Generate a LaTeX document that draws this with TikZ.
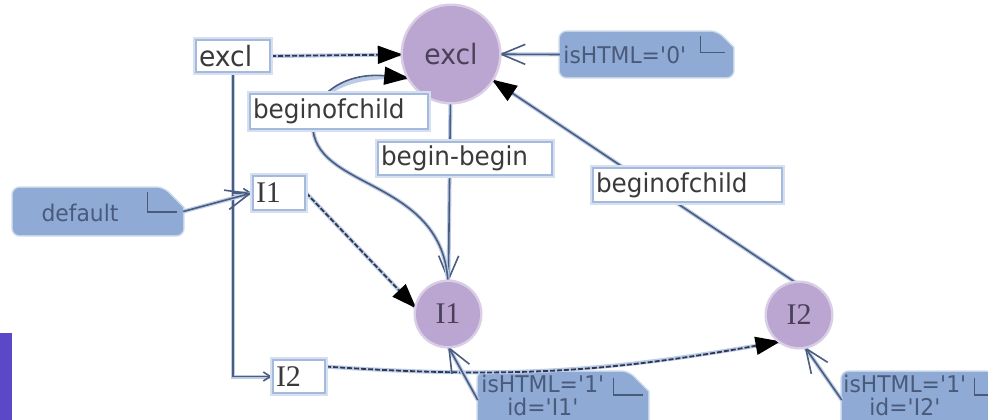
\documentclass[tikz,border=0pt]{standalone}
\usepackage{fontspec}
\newfontfamily\labfont[FakeStretch=0.95]{DejaVu Sans}
\newfontfamily\serfont{Liberation Serif}
\usetikzlibrary{arrows.meta}
\pgfdeclarelayer{back}
\pgfdeclarelayer{mid}
\pgfsetlayers{back,mid,main}

\definecolor{circfill}{HTML}{BBA5D1}
\definecolor{circtxt}{HTML}{4B4058}
\definecolor{notefill}{HTML}{8FAAD4}
\definecolor{notetxt}{HTML}{4A5A7A}
\definecolor{linec}{HTML}{4B5D7E}
\definecolor{dashc}{HTML}{2E3850}
\definecolor{glowc}{HTML}{BCCCE8}
\definecolor{boxedge}{HTML}{A3B9DE}
\definecolor{labtxt}{HTML}{3A3A3A}
\definecolor{sidebar}{HTML}{5A48C8}

\newcommand\apos{\textquotesingle}

\begin{document}
\begin{tikzpicture}[x=1pt,y=-1pt,
  lbl/.style={fill=white, draw=boxedge, line width=2.4pt,
    preaction={draw=glowc!60!white, line width=6pt},
    inner xsep=3pt, inner ysep=0pt, align=left, text=labtxt},
  labfnt/.style={font=\labfont\fontsize{26}{30}\selectfont},
  exfnt/.style={font=\labfont\fontsize{28}{32}\selectfont},
  serfnt/.style={font=\serfont\fontsize{30}{32}\selectfont},
  notefnt/.style={font=\labfont\fontsize{23}{23}\selectfont, text=notetxt, inner sep=0pt},
  role/.style={circle, fill=circfill, inner sep=0pt,
    preaction={draw=circfill!55!white, line width=5pt}},
  ghost/.style={draw=none, fill=none, inner sep=0pt},
  conn/.style={draw=linec, line width=1.6pt,
    preaction={draw=glowc, line width=4pt, -}},
  dashconn/.style={draw=dashc, line width=1.8pt, dash pattern=on 5pt off 2pt,
    preaction={draw=glowc, line width=4pt, solid, -}},
  fillhead/.style={-{Triangle[length=25pt,width=18pt,fill=black,color=black]}},
  openhead/.style={-{Straight Barb[length=24pt,width=20pt]}},
  smallhead/.style={-{Straight Barb[length=7pt,width=9pt]}},
  notemark/.style={draw=notetxt, line width=1.4pt},
]
\useasboundingbox (0,0) rectangle (988,420);
\begin{pgfonlayer}{back}
  \fill[white] (0,0) rectangle (988,420);
  \fill[sidebar] (0,333) rectangle (12,420);
\end{pgfonlayer}

% ---- role circles
\node[role, minimum size=96pt, exfnt, text=circtxt] (exclC) at (451,54) {excl};
\node[role, minimum size=64pt, serfnt, text=circtxt] (I1C) at (448,314) {I1};
\node[role, minimum size=64pt, serfnt, text=circtxt] (I2C) at (799,315) {I2};

% ---- element boxes
\node[lbl, exfnt, text width=68pt, minimum height=32pt] (exclB) at (233,56) {excl};
\node[lbl, serfnt, text width=46pt, minimum height=34pt] (I1B) at (279,193) {I1};
\node[lbl, serfnt, text width=46pt, minimum height=33pt] (I2B) at (299,376.5) {I2};

% ---- edge labels
\node[lbl, labfnt, text width=172pt, minimum height=35pt] (boc1) at (339,111.5) {beginofchild};
\node[lbl, labfnt, text width=168pt, minimum height=33pt] (bb) at (465,158.5) {begin-begin};
\node[lbl, labfnt, text width=183pt, minimum height=34pt] (boc2) at (687.5,185) {beginofchild};

% ---- notes (outline nodes, then shapes on the back layer)
\node[ghost, minimum width=173pt, minimum height=45pt] (n0) at (646.5,54.5) {};
\node[ghost, minimum width=170pt, minimum height=47pt] (ndef) at (98,211.5) {};
\node[ghost, minimum width=170pt, minimum height=56pt] (nI1) at (563,400) {};
\node[ghost, minimum width=168pt, minimum height=56pt] (nI2) at (926,400) {};

\begin{pgfonlayer}{back}
  \foreach \nt/\cut in {n0/16, ndef/20, nI1/20, nI2/18}{
    \fill[notefill, rounded corners=7pt,
      preaction={draw=notefill!45!white, line width=3pt, rounded corners=7pt}]
      (\nt.south west) -- (\nt.north west) -- ([xshift=-\cut pt]\nt.north east)
      [sharp corners] -- ([yshift=-\cut pt]\nt.north east)
      [rounded corners=7pt] -- (\nt.south east) -- cycle;
  }
\end{pgfonlayer}
\draw[notemark] ([xshift=-33pt,yshift=-4pt]n0.north east) |- ([xshift=-8pt,yshift=-21pt]n0.north east);
\draw[notemark] ([xshift=-36pt,yshift=-4pt]ndef.north east) |- ([xshift=-6pt,yshift=-24pt]ndef.north east);
\draw[notemark] ([xshift=-35pt,yshift=-6pt]nI1.north east) |- ([xshift=-5pt,yshift=-23pt]nI1.north east);
\draw[notemark] ([xshift=-36pt,yshift=-6pt]nI2.north east) |- ([xshift=-5pt,yshift=-23pt]nI2.north east);

\node[notefnt] (t0) at (625,55) {isHTML=\apos0\apos};
\node[notefnt] (tdef) at (80,213) {default};
\node[notefnt, align=center] (tI1) at (543,395) {isHTML=\apos1\apos\\id=\apos I1\apos};
\node[notefnt, align=center] (tI2) at (905,395) {isHTML=\apos1\apos\\id=\apos I2\apos};

% ---- connectors
\begin{pgfonlayer}{mid}
  % containment tree
  \coordinate (br) at (exclB.south |- I1B.west);
  \draw[conn, smallhead] (exclB.south) |- (I2B.west);
  \draw[conn, smallhead] (br) -- (I1B.west);
  % references
  \draw[dashconn, fillhead] (exclB.east) -- (exclC);
  \draw[dashconn, fillhead] (I1B.east) -- (I1C.170);
  \draw[dashconn, fillhead] (I2B.20) to[bend right=7] (I2C.235);
  % relations between roles
  \draw[conn, openhead] (exclC) -- (I1C);
  \draw[conn, fillhead] (I1C.north) .. controls (442,180) and (320,190) .. (313,130)
        .. controls (309,95) and (345,72) .. (exclC.210);
  \draw[conn, fillhead] (I2C.95) -- (exclC.-32);
  % annotations
  \draw[conn, openhead] (n0.west) -- (exclC);
  \draw[conn, openhead] (ndef.east) -- (I1B.west);
  \draw[conn, openhead] (nI1.west) -- (I1C.south);
  \draw[conn, openhead] (nI2.west) -- (I2C.-80);
\end{pgfonlayer}
\end{tikzpicture}
\end{document}
